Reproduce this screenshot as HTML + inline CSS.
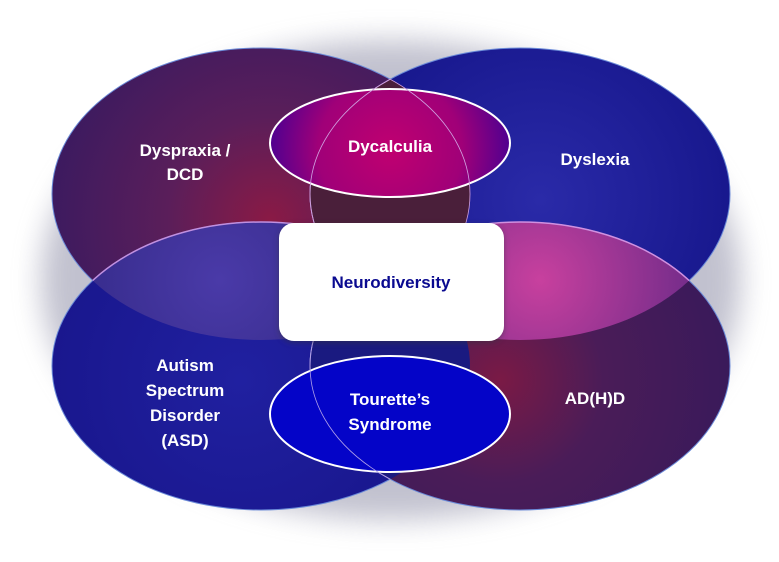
<!DOCTYPE html>
<html><head><meta charset="utf-8"><style>
html,body{margin:0;padding:0;background:#fff;width:779px;height:562px;overflow:hidden}
text{font-family:"Liberation Sans",sans-serif;font-weight:bold;font-size:17px;fill:#fff;text-anchor:middle}
</style></head><body>
<svg width="779" height="562" viewBox="0 0 779 562" xmlns="http://www.w3.org/2000/svg">
<defs>
<filter id="sh" x="-20%" y="-20%" width="140%" height="140%"><feGaussianBlur stdDeviation="14"/></filter>
<filter id="rs" x="-20%" y="-20%" width="140%" height="140%"><feGaussianBlur stdDeviation="3"/></filter>
<radialGradient id="gTL" cx="270" cy="220" r="230" gradientUnits="userSpaceOnUse"><stop offset="0" stop-color="#8a1a45"/><stop offset="0.45" stop-color="#5a1e5a"/><stop offset="1" stop-color="#3a1a60"/></radialGradient>
<radialGradient id="gTR" cx="540" cy="200" r="230" gradientUnits="userSpaceOnUse"><stop offset="0" stop-color="#2a2aa8"/><stop offset="1" stop-color="#141488"/></radialGradient>
<radialGradient id="gBL" cx="240" cy="380" r="230" gradientUnits="userSpaceOnUse"><stop offset="0" stop-color="#2020a0"/><stop offset="1" stop-color="#18158a"/></radialGradient>
<radialGradient id="gBR" cx="500" cy="380" r="230" gradientUnits="userSpaceOnUse"><stop offset="0" stop-color="#7a1a45"/><stop offset="0.45" stop-color="#4a1c58"/><stop offset="1" stop-color="#3a1a5a"/></radialGradient>
<radialGradient id="gLL" cx="220" cy="280" r="160" gradientUnits="userSpaceOnUse"><stop offset="0" stop-color="#4a3aa8"/><stop offset="1" stop-color="#342a88"/></radialGradient>
<radialGradient id="gRL" cx="540" cy="280" r="170" gradientUnits="userSpaceOnUse"><stop offset="0" stop-color="#c8409e"/><stop offset="1" stop-color="#6a2a88"/></radialGradient>
<radialGradient id="gD" cx="390" cy="150" r="120" gradientUnits="userSpaceOnUse"><stop offset="0" stop-color="#c00070"/><stop offset="0.6" stop-color="#a00078"/><stop offset="1" stop-color="#500090"/></radialGradient>
<clipPath id="cTL"><ellipse cx="261" cy="194" rx="209" ry="146"/></clipPath>
<clipPath id="cTR"><ellipse cx="520" cy="194" rx="210" ry="146"/></clipPath>
<clipPath id="cBL"><ellipse cx="261" cy="366" rx="209" ry="144"/></clipPath>
</defs>
<ellipse cx="391" cy="280" rx="350" ry="240" fill="#9090a8" opacity="0.55" filter="url(#sh)"/>
<ellipse cx="261" cy="194" rx="209" ry="146" fill="url(#gTL)" stroke="#6a8ad8" stroke-width="1"/>
<ellipse cx="520" cy="194" rx="210" ry="146" fill="url(#gTR)" stroke="#6a8ad8" stroke-width="1"/>
<ellipse cx="261" cy="366" rx="209" ry="144" fill="url(#gBL)" stroke="#6a8ad8" stroke-width="1"/>
<ellipse cx="520" cy="366" rx="210" ry="144" fill="url(#gBR)" stroke="#6a8ad8" stroke-width="1"/>
<g clip-path="url(#cTL)"><ellipse cx="261" cy="366" rx="209" ry="144" fill="url(#gLL)" stroke="#c090e0" stroke-width="1.5"/></g>
<g clip-path="url(#cTR)"><ellipse cx="520" cy="366" rx="210" ry="144" fill="url(#gRL)" stroke="#d090e0" stroke-width="1.5"/></g>
<g clip-path="url(#cTL)"><ellipse cx="520" cy="194" rx="210" ry="146" fill="#4a1f3a" stroke="#c090d0" stroke-width="1"/></g>
<g clip-path="url(#cBL)"><ellipse cx="520" cy="366" rx="210" ry="144" fill="#1a1a80" stroke="#b090d0" stroke-width="1"/></g>
<ellipse cx="390" cy="143" rx="120" ry="54" fill="url(#gD)" stroke="#fff" stroke-width="2"/>
<g clip-path="url(#cTL)"><ellipse cx="520" cy="194" rx="210" ry="146" fill="none" stroke="#d0a0e0" stroke-width="0.8"/></g>
<g clip-path="url(#cTR)"><ellipse cx="261" cy="194" rx="209" ry="146" fill="none" stroke="#d0a0e0" stroke-width="0.8"/></g>
<ellipse cx="390" cy="414" rx="120" ry="58" fill="#0404c8" stroke="#fff" stroke-width="2"/>
<g clip-path="url(#cBL)"><ellipse cx="520" cy="366" rx="210" ry="144" fill="none" stroke="#b0a0e8" stroke-width="0.8"/></g>
<ellipse cx="261" cy="366" rx="209" ry="144" fill="none" stroke="#b0a0e8" stroke-width="0.8" clip-path="url(#cTR)"/>
<rect x="279" y="225" width="225" height="118" rx="15" fill="#303040" opacity="0.5" filter="url(#rs)"/>
<rect x="279" y="223" width="225" height="118" rx="15" fill="#fff"/>
<text x="185" y="156">Dyspraxia /</text>
<text x="185" y="180">DCD</text>
<text x="390" y="152">Dycalculia</text>
<text x="595" y="165">Dyslexia</text>
<text x="391" y="288" style="fill:#0a0a90">Neurodiversity</text>
<text x="185" y="371">Autism</text>
<text x="185" y="396">Spectrum</text>
<text x="185" y="421">Disorder</text>
<text x="185" y="446">(ASD)</text>
<text x="390" y="405">Tourette’s</text>
<text x="390" y="430">Syndrome</text>
<text x="595" y="404">AD(H)D</text>
</svg>
</body></html>
